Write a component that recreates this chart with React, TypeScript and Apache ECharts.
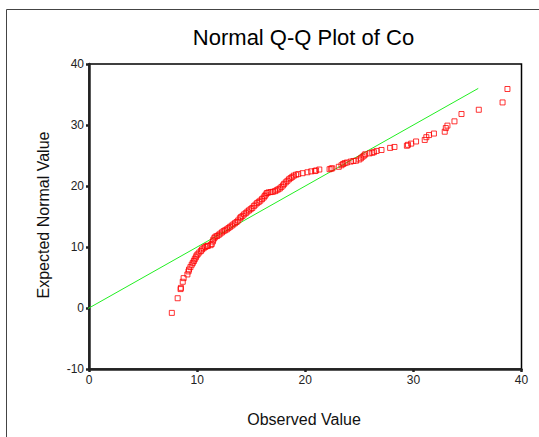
import React, { useEffect, useRef } from "react";
import * as echarts from "echarts";

const TITLE = "Normal Q-Q Plot of Co";
const X_NAME = "Observed Value";
const Y_NAME = "Expected Normal Value";

const observed: number[] = [
  7.66, 8.2, 8.47, 8.5, 8.67, 8.75, 9.1, 9.2, 9.25, 9.38, 9.5, 9.6, 9.7, 9.78, 9.88, 9.95,
  10.05, 10.2, 10.35, 10.45, 10.6, 10.75, 10.9, 11.0, 11.25, 11.35, 11.45, 11.5, 11.6, 11.7,
  11.85, 12.0, 12.15, 12.3, 12.45, 12.6, 12.75, 12.9, 13.05, 13.2, 13.35, 13.5, 13.65, 13.8,
  13.95, 14.05, 14.2, 14.35, 14.5, 14.65, 14.8, 14.95, 15.1, 15.25, 15.4, 15.55, 15.7, 15.85,
  16.0, 16.15, 16.25, 16.35, 16.45, 16.6, 16.8, 17.0, 17.2, 17.35, 17.5, 17.65, 17.8, 17.95,
  18.05, 18.2, 18.35, 18.5, 18.65, 18.8, 18.95, 19.15, 19.35, 19.75, 20.2, 20.55, 20.9, 21.0,
  21.3, 22.25, 22.4, 22.5, 23.1, 23.35, 23.5, 23.65, 23.85, 24.2, 24.45, 24.7, 25.0, 25.15,
  25.3, 25.45, 25.55, 25.95, 26.2, 26.35, 26.6, 27.05, 27.85, 28.25, 29.4, 29.5, 29.8, 30.25,
  31.05, 31.2, 31.45, 31.9, 32.9, 33.0, 33.15, 33.8, 34.45, 36.05, 38.25, 38.7,
];

const expected: number[] = [
  -0.8, 1.6, 3.1, 3.3, 4.3, 4.9, 5.5, 6.0, 6.3, 6.7, 7.1, 7.4, 7.7, 8.0, 8.3, 8.6,
  8.8, 9.1, 9.35, 9.6, 9.8, 10.0, 10.15, 10.2, 10.3, 10.5, 10.9, 11.2, 11.5, 11.7,
  11.8, 12.0, 12.2, 12.4, 12.6, 12.75, 12.9, 13.1, 13.3, 13.5, 13.7, 13.9, 14.1, 14.35,
  14.7, 14.9, 15.1, 15.35, 15.55, 15.8, 16.0, 16.2, 16.4, 16.7, 16.95, 17.2, 17.4, 17.6,
  17.85, 18.1, 18.35, 18.6, 18.85, 18.95, 19.0, 19.05, 19.15, 19.3, 19.45, 19.6, 19.85, 20.1,
  20.35, 20.6, 20.85, 21.1, 21.3, 21.5, 21.7, 21.85, 21.95, 22.1, 22.25, 22.4, 22.45, 22.55,
  22.7, 22.75, 22.85, 22.9, 23.15, 23.4, 23.6, 23.75, 23.85, 24.0, 24.1, 24.15, 24.35, 24.55,
  24.8, 25.0, 25.2, 25.35, 25.45, 25.55, 25.75, 25.9, 26.25, 26.4, 26.6, 26.75, 26.95, 27.3,
  27.55, 28.0, 28.35, 28.6, 28.9, 29.5, 29.9, 30.6, 31.8, 32.5, 33.7, 35.9,
];

const refLineX: number[] = [-0.8, 36.0];
const refLineY: number[] = [-0.8, 36.0];

const FONT = "'Liberation Sans', Arial, sans-serif";

export default function App() {
  const ref = useRef<HTMLDivElement>(null);
  useEffect(() => {
    if (!ref.current) return;
    const chart = echarts.init(ref.current, null, { renderer: "svg" });
    const points = observed.map((x, i) => [x, expected[i]]);
    const line = refLineX.map((x, i) => [x, refLineY[i]]);
    chart.setOption({
      animation: false,
      backgroundColor: "#ffffff",
      grid: {
        left: 89,
        right: 17.5,
        top: 64,
        bottom: 68,
        show: true,
        borderColor: "#000",
        borderWidth: 1.5,
        backgroundColor: "transparent",
      },
      xAxis: {
        type: "value",
        min: 0,
        max: 40,
        interval: 10,
        splitLine: { show: false },
        axisLine: { show: true, onZero: false, lineStyle: { color: "#222", width: 2.5 } },
        axisTick: { show: true, length: 3, lineStyle: { color: "#222", width: 2.5 } },
        axisLabel: { color: "#222", fontSize: 12, fontFamily: FONT, margin: 5 },
      },
      yAxis: {
        type: "value",
        min: -10,
        max: 40,
        interval: 10,
        splitLine: { show: false },
        axisLine: { show: true, onZero: false, lineStyle: { color: "#222", width: 2.5 } },
        axisTick: { show: true, length: 3, lineStyle: { color: "#222", width: 2.5 } },
        axisLabel: { color: "#222", fontSize: 12, fontFamily: FONT, margin: 5 },
      },
      graphic: [
        {
          type: "rect",
          shape: { x: 6.5, y: 9.5, width: 700, height: 600 },
          style: { fill: "none", stroke: "#444", lineWidth: 1 },
          silent: true,
        },
        {
          type: "text",
          x: 303.5,
          y: 37,
          style: {
            text: TITLE,
            fontSize: 22,
            fontFamily: FONT,
            fill: "#000",
            textAlign: "center",
            textVerticalAlign: "middle",
          },
        },
        {
          type: "text",
          x: 304,
          y: 419,
          style: {
            text: X_NAME,
            fontSize: 16,
            fontFamily: FONT,
            fill: "#111",
            textAlign: "center",
            textVerticalAlign: "middle",
          },
        },
        {
          type: "text",
          x: 43,
          y: 215,
          rotation: Math.PI / 2,
          style: {
            text: Y_NAME,
            fontSize: 16,
            fontFamily: FONT,
            fill: "#111",
            textAlign: "center",
            textVerticalAlign: "middle",
          },
        },
      ],
      series: [
        {
          type: "line",
          data: line,
          clip: false,
          symbol: "none",
          lineStyle: { color: "#22ee22", width: 1 },
          z: 2,
        },
        {
          type: "scatter",
          data: points,
          symbol: "rect",
          symbolSize: 5,
          itemStyle: { color: "transparent", borderColor: "#ff0000", borderWidth: 1 },
          z: 3,
        },
      ],
    });
    return () => chart.dispose();
  }, []);
  return (
    <div
      ref={ref}
      style={{ position: "fixed", left: 0, top: 0, width: 539, height: 437, background: "#fff" }}
    />
  );
}
